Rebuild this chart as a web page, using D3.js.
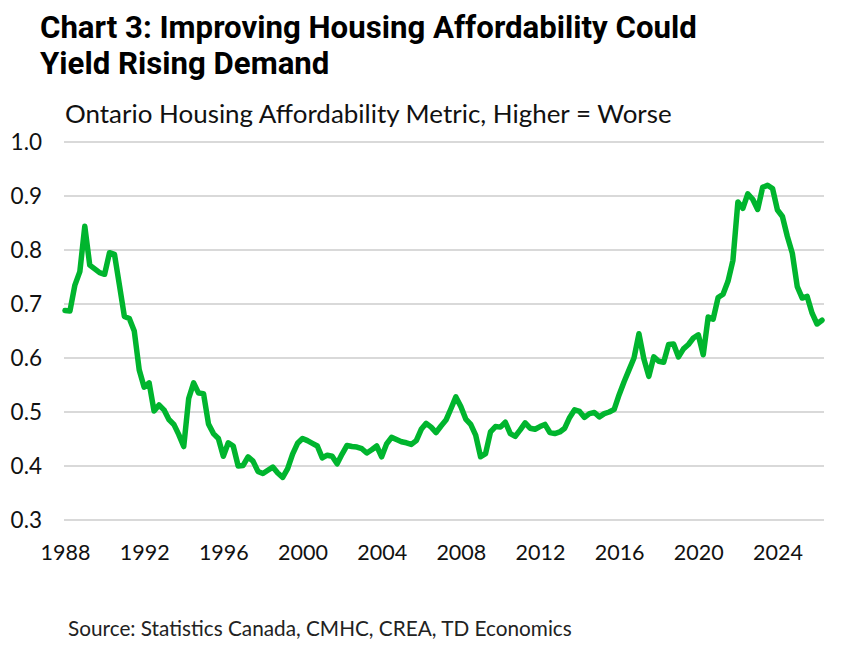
<!DOCTYPE html>
<html>
<head>
<meta charset="utf-8">
<script src="https://cdn.jsdelivr.net/npm/d3@7"></script>
<style>
  html, body { margin: 0; padding: 0; background: #fff; }
  svg { display: block; }
</style>
</head>
<body>
<svg id="chart" width="868" height="648"></svg>
<script>
// ---- Data (quarterly, 1988 Q1 onward) ----
const startYear = 1988;
const tickYears = [1988, 1992, 1996, 2000, 2004, 2008, 2012, 2016, 2020, 2024];
const yTickValues = [0.3, 0.4, 0.5, 0.6, 0.7, 0.8, 0.9, 1.0];
const affordability = [
  0.688,0.687,0.735,0.76,0.844,0.772,0.765,0.758,0.755,0.795,
  0.792,0.735,0.677,0.673,0.65,0.578,0.546,0.554,0.502,0.513,
  0.504,0.486,0.477,0.458,0.436,0.525,0.554,0.535,0.534,0.478,
  0.46,0.451,0.418,0.443,0.437,0.40,0.401,0.417,0.409,0.39,
  0.386,0.392,0.398,0.387,0.379,0.395,0.422,0.442,0.451,0.447,
  0.442,0.437,0.415,0.420,0.418,0.404,0.422,0.438,0.436,0.435,
  0.432,0.424,0.43,0.437,0.417,0.441,0.453,0.449,0.445,0.443,
  0.44,0.447,0.468,0.479,0.472,0.462,0.474,0.485,0.506,0.528,
  0.51,0.487,0.477,0.457,0.417,0.423,0.463,0.473,0.472,0.481,
  0.46,0.455,0.467,0.48,0.47,0.468,0.473,0.477,0.462,0.46,
  0.463,0.47,0.49,0.504,0.501,0.49,0.497,0.499,0.491,0.497,
  0.5,0.505,0.532,0.556,0.578,0.60,0.645,0.598,0.566,0.602,
  0.594,0.592,0.625,0.626,0.602,0.617,0.625,0.637,0.643,0.606,
  0.676,0.672,0.712,0.718,0.742,0.781,0.889,0.877,0.904,0.894,
  0.875,0.916,0.92,0.914,0.874,0.862,0.825,0.794,0.732,0.711,
  0.714,0.683,0.663,0.67
];
const titleLines = ["Chart 3: Improving Housing Affordability Could", "Yield Rising Demand"];
const subtitle = "Ontario Housing Affordability Metric, Higher = Worse";
const source = "Source: Statistics Canada, CMHC, CREA, TD Economics";

// ---- Layout ----
const svg = d3.select("#chart");
const plotLeft = 65, plotRight = 822, plotTop = 142, plotBottom = 520;
const fontTitle = "'Liberation Sans Narrow', 'Roboto', sans-serif";
const fontBody = "'Lato', 'Inter', sans-serif";

const x = d3.scaleLinear().domain([0, affordability.length - 1]).range([plotLeft, plotRight]);
const y = d3.scaleLinear().domain([0.3, 1.0]).range([plotBottom, plotTop]);

function fit(sel, target, base) {
  sel.attr("font-size", base);
  const w = sel.node().getComputedTextLength();
  const s = base * target / w;
  sel.attr("font-size", s);
  return s;
}

// Title
const t1 = svg.append("text").attr("x", 40).attr("y", 38)
  .attr("font-family", fontTitle).attr("font-weight", "bold").attr("fill", "#000")
  .text(titleLines[0]);
const ts = fit(t1, 657, 30);
svg.append("text").attr("x", 40).attr("y", 74)
  .attr("font-family", fontTitle).attr("font-weight", "bold").attr("fill", "#000")
  .attr("font-size", ts).text(titleLines[1]);

// Subtitle
const st = svg.append("text").attr("x", 65).attr("y", 123)
  .attr("font-family", fontBody).attr("fill", "#111").text(subtitle);
fit(st, 607, 22);

// Gridlines
svg.append("g").selectAll("line").data(yTickValues).join("line")
  .attr("x1", plotLeft - 1).attr("x2", plotRight + 2)
  .attr("y1", d => y(d)).attr("y2", d => y(d))
  .attr("stroke", "#d9d9d9").attr("stroke-width", 2.2);

// Y axis
const yAxis = svg.append("g").attr("transform", `translate(42,0)`)
  .call(d3.axisLeft(y).tickValues(yTickValues).tickFormat(d3.format(".1f")).tickSize(0).tickPadding(0));
yAxis.select(".domain").remove();
yAxis.selectAll("text").attr("font-family", fontBody).attr("font-size", 22.5).attr("fill", "#111");

// X axis
const xAxis = svg.append("g").attr("transform", `translate(0,${plotBottom + 21})`)
  .call(d3.axisBottom(x).tickValues(tickYears.map(yr => (yr - startYear) * 4))
    .tickFormat((d, i) => String(tickYears[i])).tickSize(0).tickPadding(0));
xAxis.select(".domain").remove();
xAxis.selectAll("text").attr("font-family", fontBody).attr("font-size", 21.5).attr("fill", "#111").attr("dy", "0.9em");

// Line
svg.append("path").datum(affordability)
  .attr("fill", "none").attr("stroke", "#00b52e").attr("stroke-width", 5.5)
  .attr("stroke-linejoin", "round").attr("stroke-linecap", "round")
  .attr("d", d3.line().x((d, i) => x(i)).y(d => y(d)));

// Source
const src = svg.append("text").attr("x", 68).attr("y", 636)
  .attr("font-family", fontBody).attr("fill", "#222").text(source);
fit(src, 504, 17);
</script>
</body>
</html>
